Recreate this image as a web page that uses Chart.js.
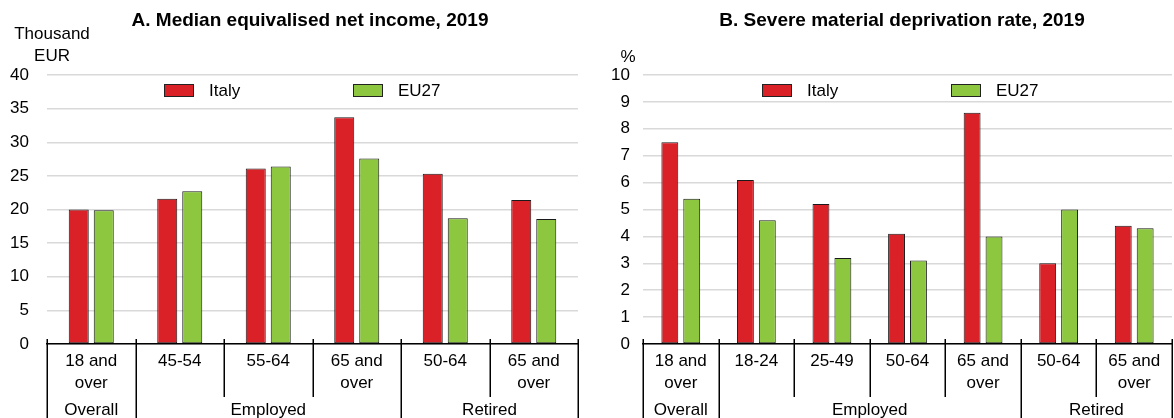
<!DOCTYPE html>
<html>
<head>
<meta charset="utf-8">
<script src="https://cdn.jsdelivr.net/npm/chart.js@4.4.1/dist/chart.umd.min.js"></script>
<style>
  html, body { margin: 0; padding: 0; background: #fff; }
  #wrap { position: relative; width: 1174px; height: 418px; overflow: hidden; }
  canvas { position: absolute; top: 0; }
</style>
</head>
<body>
<div id="wrap">
  <canvas id="incomeChart" width="587" height="418" style="left:0"></canvas>
  <canvas id="deprivChart" width="587" height="418" style="left:587px"></canvas>
</div>
<script>
// ---- data ----
const seriesNames = ['Italy', 'EU27'];

const incomeLabels = [['18 and', 'over'], ['45-54'], ['55-64'], ['65 and', 'over'], ['50-64'], ['65 and', 'over']];
const incomeGroups = ['Overall', 'Employed', 'Retired'];
const incomeGroupSizes = [1, 3, 2];
const incomeItaly = [20.0, 21.6, 26.1, 33.7, 25.3, 21.4];
const incomeEU27 = [19.9, 22.7, 26.4, 27.6, 18.7, 18.6];
const incomeTicks = [0, 5, 10, 15, 20, 25, 30, 35, 40];

const deprivLabels = [['18 and', 'over'], ['18-24'], ['25-49'], ['50-64'], ['65 and', 'over'], ['50-64'], ['65 and', 'over']];
const deprivGroups = ['Overall', 'Employed', 'Retired'];
const deprivGroupSizes = [1, 4, 2];
const deprivItaly = [7.5, 6.1, 5.2, 4.1, 8.6, 3.0, 4.4];
const deprivEU27 = [5.4, 4.6, 3.2, 3.1, 4.0, 5.0, 4.3];
const deprivTicks = [0, 1, 2, 3, 4, 5, 6, 7, 8, 9, 10];

const RED = '#da2128';
const GREEN = '#8dc73f';
const FONT = '17px "Liberation Sans", Arial, sans-serif';

// ========== DECOR PLUGIN (title, unit, legend, two-level x labels) ==========
const decor = {
  id: 'decor',
  afterDraw(chart, args, o) {
    const { ctx, chartArea: a, scales: { x } } = chart;
    const labels = chart.data.labels;
    ctx.save();
    ctx.fillStyle = '#000';
    ctx.textBaseline = 'middle';
    ctx.textAlign = 'center';

    ctx.font = 'bold 19px "Liberation Sans", Arial, sans-serif';
    ctx.fillText(o.title, o.titleX, 21);

    ctx.font = FONT;
    o.unit.forEach((t, i) => ctx.fillText(t, o.unitX, o.unitY + i * 22));

    // legend
    chart.data.datasets.forEach((ds, i) => {
      const bx = o.legendX[i];
      ctx.fillStyle = ds.backgroundColor;
      ctx.fillRect(bx, 84, 30, 13);
      ctx.strokeStyle = '#222';
      ctx.lineWidth = 1;
      ctx.strokeRect(bx + 0.5, 84.5, 29, 12);
      ctx.fillStyle = '#000';
      ctx.textAlign = 'left';
      ctx.fillText(ds.label, bx + 45, 91);
    });

    // category labels
    ctx.textAlign = 'center';
    labels.forEach((lab, i) => {
      const cx = x.getPixelForValue(i);
      lab.forEach((line, j) => ctx.fillText(line, cx, 361 + j * 22));
    });

    // separators + group labels
    const edges = [0];
    o.groupSizes.forEach(s => edges.push(edges[edges.length - 1] + s));
    ctx.strokeStyle = '#000';
    ctx.lineWidth = 1.5;
    for (let k = 0; k <= labels.length; k++) {
      const px = Math.round(x.getPixelForValue(k - 0.5)) + 0.25;
      const isGroup = edges.includes(k);
      ctx.beginPath();
      ctx.moveTo(px, a.bottom - 5);
      ctx.lineTo(px, isGroup ? 420 : 397);
      ctx.stroke();
    }
    o.groups.forEach((g, i) => {
      const l = x.getPixelForValue(edges[i] - 0.5);
      const r = x.getPixelForValue(edges[i + 1] - 0.5);
      ctx.fillText(g, (l + r) / 2, 410);
    });
    ctx.restore();
  }
};

function makeChart(id, labels, italy, eu, ticks, yWidth, yPad, padRight, catPct, barPct, decorOpts) {
  return new Chart(document.getElementById(id), {
    type: 'bar',
    data: {
      labels,
      datasets: [
        { label: seriesNames[0], data: italy, backgroundColor: RED, borderColor: '#1a1a1a', borderWidth: 1, borderSkipped: false },
        { label: seriesNames[1], data: eu, backgroundColor: GREEN, borderColor: '#1a1a1a', borderWidth: 1, borderSkipped: false }
      ]
    },
    options: {
      responsive: false,
      animation: false,
      categoryPercentage: catPct,
      barPercentage: barPct,
      layout: { padding: { top: 75, bottom: 74, left: 0, right: padRight } },
      plugins: {
        legend: { display: false },
        tooltip: { enabled: false },
        decor: decorOpts
      },
      scales: {
        x: {
          afterFit: s => { s.height = 0; },
          grid: { display: false },
          ticks: { display: false },
          border: { display: true, color: '#000', width: 1.5, z: 1 }
        },
        y: {
          min: ticks[0],
          max: ticks[ticks.length - 1],
          afterBuildTicks: s => { s.ticks = ticks.map(v => ({ value: v })); },
          afterFit: s => { s.width = yWidth; },
          grid: { color: '#d9d9d9', lineWidth: 1.5, drawTicks: false },
          border: { display: false },
          ticks: { color: '#000', font: { family: '"Liberation Sans", Arial, sans-serif', size: 17 }, padding: yPad }
        }
      }
    },
    plugins: [decor]
  });
}

makeChart('incomeChart', incomeLabels, incomeItaly, incomeEU27, incomeTicks, 47, 18, 9, 0.565, 0.8, {
  title: 'A. Median equivalised net income, 2019', titleX: 310,
  unit: ['Thousand', 'EUR'], unitX: 52, unitY: 34,
  legendX: [164, 353],
  groups: incomeGroups, groupSizes: incomeGroupSizes
});

makeChart('deprivChart', deprivLabels, deprivItaly, deprivEU27, deprivTicks, 56, 13, 2, 0.58, 0.77, {
  title: 'B. Severe material deprivation rate, 2019', titleX: 315,
  unit: ['%'], unitX: 41, unitY: 57,
  legendX: [175, 364],
  groups: deprivGroups, groupSizes: deprivGroupSizes
});
</script>
</body>
</html>
